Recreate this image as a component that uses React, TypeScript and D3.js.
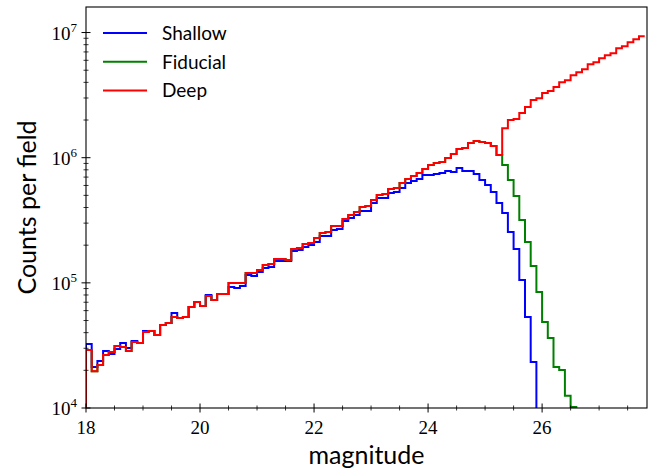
import React from 'react';
import * as d3 from 'd3';

// Histogram bins: 0.1 mag wide, starting at 18.0
const binStart = 18.0;
const binWidth = 0.1;

// Counts per field
const shallowCounts = [
  32400, 21300, 23700, 28500, 27000, 29600, 33100, 30200, 34300, 33100,
  41200, 41200, 38300, 46000, 47800, 57400, 52400, 53300, 64100, 70200,
  65300, 79900, 72900, 81400, 81400, 92600, 90900, 94300, 115400, 113300,
  122000, 131300, 133700, 149300, 149300, 149300, 179500, 182800, 193200, 200400,
  211800, 236500, 236500, 264100, 269000, 311600, 329300, 347900, 374500, 374500,
  434000, 475800, 475800, 521600, 531300, 571900, 626900, 650300, 674700, 726100,
  726100, 739600, 753400, 781600, 767400, 826000, 781600, 781600, 739600, 662500,
  604300, 531300, 434000, 361000, 254600, 186200, 105300, 53300, 23300,
];

const deepCounts = [
  29100, 19700, 22100, 26500, 28000, 31300, 30700, 28500, 33700, 33100,
  40500, 41200, 38300, 46000, 47800, 53300, 52400, 53300, 64100, 70200,
  65300, 78500, 72900, 81400, 81400, 99600, 99600, 99600, 120000, 120000,
  126600, 138800, 141300, 155000, 155000, 152100, 186200, 189700, 204100, 207900,
  228000, 250000, 254600, 284300, 284300, 323200, 347900, 367700, 403100, 410600,
  458500, 502700, 512000, 561500, 571900, 626900, 674700, 712900, 753400, 810800,
  873000, 905700, 922600, 992700, 1069000, 1171000, 1193000, 1308000, 1357000, 1332000,
  1308000, 1238000, 1049000, 1723000, 1997000, 2034000, 2272000, 2537000, 2885000, 2992000,
  3281000, 3404000, 3664000, 4016000, 4167000, 4568000, 4827000, 5101000, 5593000, 5802000,
  6246000, 6600000, 6848000, 7507000, 7789000, 8381000, 8857000, 9359000,
];

// Fiducial follows Deep up to 25.3, then falls off
const fiducialSharedBins = 73;
const fiducialTailCounts = [
  873000, 662500, 493500, 317300, 211800, 136200, 84400, 48600, 36200, 21300,
  20100, 12500, 10200,
];
const fiducialCounts = deepCounts.slice(0, fiducialSharedBins).concat(fiducialTailCounts);

const seriesNames = ['Shallow', 'Fiducial', 'Deep'];
const seriesColors = ['#0000ff', '#008000', '#ff0000'];
const seriesData = [shallowCounts, fiducialCounts, deepCounts];
const seriesDropAtEnd = [true, true, false];

const xTicks = [18, 20, 22, 24, 26];
const yTickExponents = [4, 5, 6, 7];

const W = 664;
const H = 470;
const PL = 86, PR = 647, PT = 7, PB = 408;

export default function App() {
  const x = d3.scaleLinear().domain([18, 27.84]).range([PL, PR]);
  const y = d3.scaleLog().domain([1e4, 1.6e7]).range([PB, PT]);

  const floorY = PB + 30;
  const stepPath = (counts: number[], dropAtEnd: boolean) => {
    const pts: [number, number][] = [];
    pts.push([x(binStart), floorY]);
    counts.forEach((c, i) => {
      const x0 = x(binStart + i * binWidth);
      const x1 = x(binStart + (i + 1) * binWidth);
      const yy = c > 0 ? y(c) : floorY;
      pts.push([x0, yy]);
      pts.push([x1, yy]);
    });
    if (dropAtEnd) pts.push([x(binStart + counts.length * binWidth), floorY]);
    return d3.line()(pts) || '';
  };

  const xMinor = d3.range(36, 56).map((k) => k / 2).filter((v) => !xTicks.includes(v) && v <= 27.84);
  const yMinor: number[] = [];
  for (let e = 4; e <= 7; e++) {
    for (let m = 2; m <= 9; m++) {
      const v = m * Math.pow(10, e);
      if (v <= 1.6e7) yMinor.push(v);
    }
  }

  const serif = '"Liberation Serif", "DejaVu Serif", serif';
  const sans = 'Lato, "DejaVu Sans", sans-serif';

  return (
    <svg width={W} height={H} style={{ position: 'absolute', left: 0, top: 0, background: '#fff' }}>
      <rect x={0} y={0} width={W} height={H} fill="#fff" />
      <defs>
        <clipPath id="plotClip">
          <rect x={PL} y={PT} width={PR - PL} height={PB - PT} />
        </clipPath>
      </defs>
      <g clipPath="url(#plotClip)">
        {seriesData.map((d, i) => (
          <path key={seriesNames[i]} d={stepPath(d, seriesDropAtEnd[i])} fill="none" stroke={seriesColors[i]}
            strokeWidth={2} strokeLinejoin="miter" />
        ))}
      </g>
      <rect x={PL} y={PT} width={PR - PL} height={PB - PT} fill="none" stroke="#000" strokeWidth={1.1} />

      {/* x ticks */}
      {xTicks.map((t) => (
        <g key={'xt' + t}>
          <line x1={x(t)} x2={x(t)} y1={PB - 4.5} y2={PB + 4.5} stroke="#000" strokeWidth={1} />
          <text x={x(t)} y={PB + 26} textAnchor="middle" fontFamily={serif} fontSize={19} fill="#000">{t}</text>
        </g>
      ))}
      {xMinor.map((t) => (
        <line key={'xm' + t} x1={x(t)} x2={x(t)} y1={PB - 2.5} y2={PB + 2.5} stroke="#000" strokeWidth={0.8} />
      ))}

      {/* y ticks */}
      {yTickExponents.map((e) => {
        const yy = y(Math.pow(10, e));
        return (
          <g key={'yt' + e}>
            <line x1={PL - 4.5} x2={PL + 4.5} y1={yy} y2={yy} stroke="#000" strokeWidth={1} />
            <text x={77} y={yy + 7} textAnchor="end" fontFamily={serif} fontSize={19} fill="#000">
              10<tspan fontSize={13} dy={-8}>{e}</tspan>
            </text>
          </g>
        );
      })}
      {yMinor.map((v) => (
        <line key={'ym' + v} x1={PL - 2.5} x2={PL + 2.5} y1={y(v)} y2={y(v)} stroke="#000" strokeWidth={0.8} />
      ))}

      {/* axis labels */}
      <text x={(PL + PR) / 2} y={464} textAnchor="middle" fontFamily={sans} fontSize={25} fill="#000">magnitude</text>
      <text transform={`translate(36, ${(PT + PB) / 2}) rotate(-90)`} textAnchor="middle" fontFamily={sans} fontSize={25} fill="#000">Counts per field</text>

      {/* legend */}
      {seriesNames.map((n, i) => {
        const ly = 33 + i * 28.7;
        return (
          <g key={'lg' + n}>
            <line x1={103} x2={147} y1={ly} y2={ly} stroke={seriesColors[i]} strokeWidth={2} />
            <text x={162} y={ly + 7} fontFamily={sans} fontSize={19} fill="#000">{n}</text>
          </g>
        );
      })}
    </svg>
  );
}
